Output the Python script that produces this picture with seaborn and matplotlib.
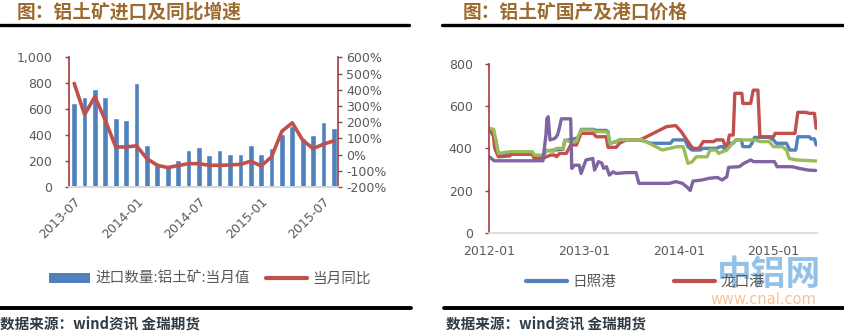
import numpy as np
import pandas as pd
import matplotlib
matplotlib.use('Agg')
import matplotlib.pyplot as plt
import matplotlib.dates as mdates
from matplotlib.patches import Patch
from matplotlib.lines import Line2D
from matplotlib.ticker import FuncFormatter
import seaborn as sns

sns.set_theme(style='white')
plt.rcParams['font.family'] = ['DejaVu Sans', 'Noto Sans CJK SC']

# ---------------- left chart data ----------------
months = ['2013-07', '2013-08', '2013-09', '2013-10', '2013-11', '2013-12',
          '2014-01', '2014-02', '2014-03', '2014-04', '2014-05', '2014-06',
          '2014-07', '2014-08', '2014-09', '2014-10', '2014-11', '2014-12',
          '2015-01', '2015-02', '2015-03', '2015-04', '2015-05', '2015-06',
          '2015-07', '2015-08']
imports = [650, 696, 755, 696, 534, 518, 799, 320, 170, 155, 206, 289,
           305, 245, 282, 252, 253, 320, 255, 300, 410, 470, 375, 400, 503, 456]
yoy = [439, 247, 357, 210, 47, 47, 54, -25, -66, -80, -68, -56,
       -56, -66, -66, -64, -60, -41, -70, -14, 144, 196, 89, 37, 64, 85]
left_ticks = ['2013-07', '2014-01', '2014-07', '2015-01', '2015-07']
left_legend = ['进口数量:铝土矿:当月值', '当月同比']

# ---------------- right chart data ----------------
rz_dates = ['2012-01-01', '2012-01-26', '2012-02-05', '2012-06-15', '2012-06-22', '2012-07-26',
            '2012-08-08', '2012-10-12', '2012-10-18', '2012-12-08', '2012-12-21', '2013-02-05',
            '2013-02-17', '2013-03-27', '2013-04-03', '2013-04-09', '2013-05-05', '2013-05-17',
            '2013-08-05', '2013-09-01', '2013-09-15', '2013-11-30', '2013-12-10', '2014-01-25',
            '2014-02-05', '2014-02-20', '2014-03-25', '2014-04-05', '2014-05-25', '2014-06-10',
            '2014-06-20', '2014-06-28', '2014-07-15', '2014-07-30', '2014-08-10', '2014-08-30',
            '2014-09-05', '2014-10-01', '2014-10-10', '2014-10-20', '2014-12-15', '2015-01-01',
            '2015-01-12', '2015-02-20', '2015-03-05', '2015-03-28', '2015-04-05', '2015-05-20',
            '2015-05-25', '2015-06-08', '2015-06-15']
rz_vals = [490, 440, 372, 380, 365, 365,
           388, 396, 436, 450, 490, 490,
           485, 485, 478, 424, 432, 440,
           440, 430, 424, 424, 440, 440,
           408, 392, 392, 400, 400, 408,
           408, 392, 424, 424, 440, 440,
           408, 408, 424, 452, 452, 440,
           424, 424, 392, 392, 455, 455,
           445, 445, 416]

lk_dates = ['2012-01-01', '2012-01-15', '2012-01-22', '2012-02-05', '2012-03-20', '2012-03-25',
            '2012-06-15', '2012-06-22', '2012-07-26', '2012-08-08', '2012-08-25', '2012-09-10',
            '2012-09-16', '2012-09-28', '2012-10-24', '2012-11-10', '2012-12-02', '2012-12-20',
            '2013-02-05', '2013-02-17', '2013-03-27', '2013-04-03', '2013-05-05', '2013-05-17',
            '2013-06-12', '2013-08-05', '2013-11-15', '2013-12-20', '2014-01-10', '2014-02-14',
            '2014-02-25', '2014-03-20', '2014-04-05', '2014-05-15', '2014-05-25', '2014-06-20',
            '2014-06-28', '2014-07-08', '2014-07-15', '2014-07-30', '2014-08-05', '2014-09-01',
            '2014-09-05', '2014-10-05', '2014-10-15', '2014-11-02', '2014-11-10', '2015-01-01',
            '2015-01-08', '2015-03-25', '2015-04-05', '2015-05-05', '2015-05-20', '2015-06-08',
            '2015-06-15']
lk_vals = [487, 480, 400, 360, 364, 372,
           372, 352, 352, 360, 368, 368,
           360, 376, 376, 416, 416, 471,
           471, 455, 455, 405, 405, 424,
           440, 440, 503, 508, 480, 416,
           400, 400, 432, 432, 440, 440,
           416, 416, 463, 463, 661, 661,
           613, 613, 676, 676, 455, 455,
           471, 471, 571, 571, 566, 566,
           495]

gr_dates = ['2012-01-01', '2012-01-18', '2012-01-26', '2012-02-05', '2012-03-20', '2012-06-15',
            '2012-06-22', '2012-07-26', '2012-08-08', '2012-09-03', '2012-09-16', '2012-10-12',
            '2012-10-18', '2012-11-06', '2012-12-02', '2012-12-08', '2012-12-21', '2013-02-05',
            '2013-02-17', '2013-03-27', '2013-04-03', '2013-04-09', '2013-05-05', '2013-05-17',
            '2013-08-02', '2013-08-08', '2013-10-30', '2013-12-25', '2014-01-18', '2014-02-05',
            '2014-02-20', '2014-03-10', '2014-04-20', '2014-05-01', '2014-05-25', '2014-06-03',
            '2014-07-05', '2014-07-27', '2014-08-10', '2014-10-25', '2014-11-10', '2014-12-15',
            '2015-01-01', '2015-02-05', '2015-02-20', '2015-03-03', '2015-04-01', '2015-06-15']
gr_vals = [495, 490, 440, 376, 384, 384,
           368, 368, 392, 385, 400, 400,
           440, 432, 432, 455, 487, 487,
           479, 479, 471, 424, 432, 440,
           440, 443, 392, 408, 408, 329,
           335, 360, 360, 392, 392, 376,
           392, 424, 440, 440, 432, 432,
           408, 408, 392, 352, 345, 340]

pu_dates = ['2012-01-01', '2012-01-20', '2012-07-26', '2012-08-07', '2012-08-10', '2012-08-15',
            '2012-08-22', '2012-09-10', '2012-09-20', '2012-09-27', '2012-10-05', '2012-11-10',
            '2012-11-14', '2012-11-25', '2012-12-13', '2012-12-20', '2013-01-08', '2013-02-03',
            '2013-02-10', '2013-02-25', '2013-03-10', '2013-03-17', '2013-03-28', '2013-04-08',
            '2013-04-23', '2013-05-04', '2013-06-13', '2013-07-20', '2013-07-31', '2013-11-25',
            '2013-12-20', '2014-01-15', '2014-02-03', '2014-02-14', '2014-02-25', '2014-04-01',
            '2014-04-27', '2014-05-30', '2014-06-17', '2014-07-05', '2014-07-12', '2014-08-22',
            '2014-09-09', '2014-10-05', '2014-10-16', '2015-01-05', '2015-01-15', '2015-03-15',
            '2015-04-10', '2015-05-15', '2015-06-13']
pu_vals = [360, 341, 341, 470, 540, 550,
           440, 447, 463, 495, 540, 540,
           305, 320, 320, 281, 345, 352,
           297, 337, 330, 305, 313, 273,
           289, 281, 285, 285, 234, 234,
           242, 234, 215, 200, 245, 250,
           258, 262, 250, 265, 310, 313,
           329, 345, 337, 337, 313, 313,
           305, 297, 295]

right_legend = ['日照港', '龙口港']

BLUE = '#4F81BD'
RED = '#C0504D'
GREEN = '#9BBB59'
PURPLE = '#8064A2'
SPINE_RED = '#A33B3A'
GRID_GRAY = '#D9D9D9'
TXT = '#595959'
TITLE_C = '#9C6B30'

W, H = 845, 334
fig = plt.figure(figsize=(W / 100, H / 100), dpi=100)

def fx(px):
    return px / W

def fy(py):
    return 1 - py / H

# ---------------- left chart ----------------
axL = fig.add_axes([fx(69), fy(187), fx(338 - 69), (187 - 57.3) / H])
dfL = pd.DataFrame({'month': months, 'imports': imports, 'yoy': yoy})
sns.barplot(data=dfL, x='month', y='imports', color=BLUE, saturation=1,
            width=0.55, ax=axL)
axR = axL.twinx()
sns.lineplot(data=dfL, x='month', y='yoy', color=RED, lw=2.6, sort=False,
             ax=axR)

axL.set_ylim(0, 1000)
axL.set_yticks([0, 200, 400, 600, 800, 1000])
axL.yaxis.set_major_formatter(FuncFormatter(lambda v, p: f'{int(v):,}'))
axL.set_xlabel('')
axL.set_ylabel('')
axR.set_ylim(-200, 600)
axR.set_yticks(range(-200, 601, 100))
axR.yaxis.set_major_formatter(FuncFormatter(lambda v, p: f'{int(v)}%'))
axR.set_ylabel('')
axR.set_xlabel('')
axL.set_xlim(-0.5, 25.4)

tick_pos = [months.index(m) for m in left_ticks]
axL.set_xticks(tick_pos)
axL.set_xticklabels(left_ticks, rotation=45, ha='right', rotation_mode='anchor')
axL.tick_params(axis='x', length=0, pad=6, labelsize=9, labelcolor=TXT,
                labelbottom=True, bottom=True)
axR.tick_params(axis='x', labelbottom=False, bottom=False, top=False, labeltop=False)
axL.tick_params(axis='y', length=3, width=1, color=SPINE_RED, pad=9,
                labelsize=9, labelcolor=TXT, left=True)
axR.tick_params(axis='y', length=3, width=1, color=SPINE_RED, pad=3,
                labelsize=9, labelcolor=TXT, right=True)
for ax in (axL, axR):
    ax.grid(False)
    ax.spines['top'].set_visible(False)
    ax.spines['bottom'].set_color(GRID_GRAY)
    ax.spines['left'].set_color(SPINE_RED)
    ax.spines['right'].set_color(SPINE_RED)
    ax.spines['left'].set_linewidth(1.2)
    ax.spines['right'].set_linewidth(1.2)
axR.spines['left'].set_visible(False)
axL.spines['right'].set_visible(False)

# ---------------- right chart ----------------
ax2 = fig.add_axes([fx(489.3), fy(232.7), fx(817 - 489.3), (232.7 - 64) / H])
frames = []
for name, d, v in [('日照港', rz_dates, rz_vals), ('龙口港', lk_dates, lk_vals),
                   ('green', gr_dates, gr_vals), ('purple', pu_dates, pu_vals)]:
    frames.append(pd.DataFrame({'date': pd.to_datetime(d), 'price': v, 'series': name}))
dfR = pd.concat(frames, ignore_index=True)
sns.lineplot(data=dfR, x='date', y='price', hue='series',
             palette={'日照港': BLUE, '龙口港': RED, 'green': GREEN, 'purple': PURPLE},
             hue_order=['日照港', '龙口港', 'green', 'purple'],
             estimator=None, lw=2.4, legend=False, ax=ax2)
ax2.set_ylim(0, 800)
ax2.set_yticks([0, 200, 400, 600, 800])
ax2.set_xlim(pd.Timestamp('2012-01-01'), pd.Timestamp('2015-06-18'))
xt = pd.to_datetime(['2012-01-01', '2013-01-01', '2014-01-01', '2015-01-01'])
ax2.set_xticks(xt)
ax2.set_xticklabels([d.strftime('%Y-%m') for d in xt])
ax2.set_xlabel('')
ax2.set_ylabel('')
ax2.grid(False)
ax2.tick_params(axis='x', length=0, pad=9, labelsize=9, labelcolor=TXT)
ax2.tick_params(axis='y', length=3, width=1, color=SPINE_RED, pad=9,
                labelsize=9, labelcolor=TXT, left=True)
ax2.spines['top'].set_visible(False)
ax2.spines['right'].set_visible(False)
ax2.spines['bottom'].set_color(GRID_GRAY)
ax2.spines['left'].set_color(SPINE_RED)
ax2.spines['left'].set_linewidth(1.2)

# ---------------- titles, rules, legends, sources ----------------
cjk = ['Noto Sans CJK SC', 'DejaVu Sans']
fig.text(fx(17), fy(12), '图：铝土矿进口及同比增速', fontsize=13.5, fontweight='bold',
         color=TITLE_C, va='center', ha='left', family=cjk)
fig.text(fx(463), fy(12), '图：铝土矿国产及港口价格', fontsize=13.5, fontweight='bold',
         color=TITLE_C, va='center', ha='left', family=cjk)
for x0, x1, y in [(0, 409, 25.3), (442, 845, 25.3), (0, 411, 307.7), (444, 845, 307.7)]:
    fig.add_artist(Line2D([fx(x0), fx(x1)], [fy(y), fy(y)], color='black',
                          lw=2.4 if y < 100 else 2.8, transform=fig.transFigure))

fig.text(0, fy(323), '数据来源：wind资讯 金瑞期货', fontsize=10.5, fontweight='bold',
         color='#2F3B45', va='center', ha='left', family=cjk)
fig.text(fx(446), fy(323), '数据来源：wind资讯 金瑞期货', fontsize=10.5, fontweight='bold',
         color='#2F3B45', va='center', ha='left', family=cjk)

legL = fig.legend(handles=[Patch(facecolor=BLUE, edgecolor='none'),
                           Line2D([], [], color=RED, lw=3)],
                  labels=left_legend, loc='center', bbox_to_anchor=(fx(210), fy(279)),
                  ncol=2, frameon=False, handlelength=2.8,
                  handletextpad=0.4, columnspacing=1.1,
                  prop={'family': cjk, 'size': 10.5})
for t in legL.get_texts():
    t.set_color(TXT)

legR = fig.legend(handles=[Line2D([], [], color=BLUE, lw=3),
                           Line2D([], [], color=RED, lw=3)],
                  labels=right_legend, loc='center', bbox_to_anchor=(fx(645), fy(282)),
                  ncol=2, frameon=False, handlelength=2.8,
                  handletextpad=0.35, columnspacing=4.0,
                  prop={'family': cjk, 'size': 10.5})
for t in legR.get_texts():
    t.set_color(TXT)

# watermark
fig.text(fx(769), fy(275), '中铝网', fontsize=25, fontweight='bold', color='#3D8FD6',
         alpha=0.55, ha='center', va='center', family=cjk)
fig.text(fx(763), fy(300), 'www.cnal.com', fontsize=10.5, color='#F29A4A',
         alpha=0.6, ha='center', va='center', family=['DejaVu Sans'])

fig.savefig('out.png', dpi=100)
